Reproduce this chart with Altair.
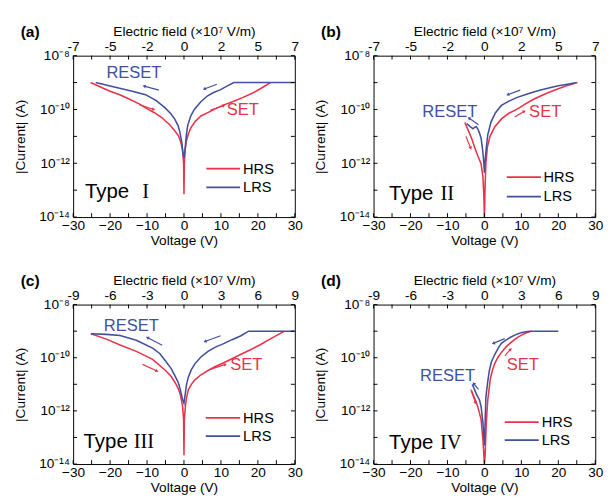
import math
import altair as alt
import pandas as pd

RED = "#e8334a"
BLUE = "#41509e"
FONT = "Liberation Sans"
SERIF = "Liberation Serif"

# ---------------- axes / tick values ----------------
V_TICKS = [-30, -20, -10, 0, 10, 20, 30]
V_MINOR = [-30, -25, -20, -15, -10, -5, 0, 5, 10, 15, 20, 25, 30]
I_MAJOR = [1e-14, 1e-12, 1e-10, 1e-8]
I_DECADES = [1e-14, 1e-13, 1e-12, 1e-11, 1e-10, 1e-9, 1e-8]
FIELD_AB = ["-7", "-5", "-2", "0", "2", "5", "7"]
FIELD_CD = ["-9", "-6", "-3", "0", "3", "6", "9"]
I_LABELS = ["10⁻¹⁴", "10⁻¹²", "10⁻¹⁰", "10⁻⁸"]
STATES = ["HRS", "LRS"]

# ---------------- (a) Type I ----------------
A_HRS_V = [-25.3, -22, -20, -17.4, -15, -12, -10.4, -8, -6, -5.1, -4, -2.5, -1.5, -0.9, -0.4, -0.1, 0.0,
           0.1, 0.3, 0.6, 1.2, 1.9, 3, 4.6, 7, 9, 11, 13.3, 16, 18.6, 21, 23.4]
A_HRS_L = [-9.0, -9.2, -9.32, -9.45, -9.6, -9.8, -9.94, -10.12, -10.3, -10.42, -10.55, -10.79, -10.98, -11.2,
           -11.5, -12.0, -13.15, -12.0, -11.5, -11.2, -10.9, -10.67, -10.45, -10.24, -10.08, -9.94, -9.82,
           -9.7, -9.55, -9.39, -9.2, -9.0]
A_LRS_V = [-23.9, -20, -17.4, -14, -10.4, -7.5, -5.1, -3.5, -2.5, -1.6, -1.1, -0.6, -0.3, 0.0, 0.3, 0.6,
           1.0, 1.8, 2.8, 4.5, 6.3, 8, 9.8, 11.5, 13.5, 20, 30]
A_LRS_L = [-9.0, -9.13, -9.21, -9.32, -9.45, -9.67, -9.94, -10.17, -10.36, -10.6, -10.85, -11.2, -11.6,
           -11.8, -11.5, -11.0, -10.6, -10.25, -10.0, -9.72, -9.5, -9.37, -9.27, -9.14, -9.0, -9.0, -9.0]

# ---------------- (b) Type II ----------------
B_HRS_V = [-5.3, -4.6, -3.5, -2.6, -1.8, -0.9, -0.4, -0.15, 0.0, 0.15, 0.4, 0.8, 1.5, 2.8, 4.6, 6.5, 9,
           11, 13.3, 15.5, 17.7, 20, 22, 25.2]
B_HRS_L = [-10.48, -10.7, -11.06, -11.42, -11.72, -12.02, -12.5, -13.2, -14.0, -13.0, -12.0, -11.4, -11.0,
           -10.65, -10.35, -10.15, -9.98, -9.8, -9.62, -9.48, -9.35, -9.23, -9.13, -9.0]
B_LRS_V = [-4.8, -4.0, -3.1, -2.6, -2.2, -1.7, -1.3, -0.9, -0.45, -0.15, 0.0, 0.2, 0.45, 0.9, 1.8, 3.0,
           4.6, 6.5, 8.9, 11, 13.3, 15.5, 17.7, 20, 22.1, 24.7]
B_LRS_L = [-10.52, -10.62, -10.72, -10.66, -10.64, -10.75, -10.89, -11.07, -11.55, -12.0, -12.35, -11.9,
           -11.5, -10.94, -10.46, -10.12, -9.85, -9.7, -9.55, -9.45, -9.35, -9.27, -9.19, -9.12, -9.07, -9.01]

# ---------------- (c) Type III ----------------
C_HRS_V = [-25.2, -21, -17.3, -12.9, -8.5, -5, -3.5, -2.3, -1.5, -1.0, -0.4, -0.1, 0.0, 0.1, 0.4, 0.7,
           1.2, 2, 2.9, 4.5, 6.5, 8.5, 10.9, 13, 15.3, 18, 20.5, 23.5, 27.2]
C_HRS_L = [-9.1, -9.3, -9.52, -9.76, -10.06, -10.48, -10.7, -10.96, -11.18, -11.38, -11.8, -12.3, -13.67,
           -12.3, -11.8, -11.5, -11.2, -11.0, -10.84, -10.65, -10.48, -10.33, -10.18, -10.04, -9.88, -9.7,
           -9.52, -9.28, -9.0]
C_LRS_V = [-25.2, -21, -17.3, -12.9, -8.5, -6.5, -5, -3.5, -2.3, -1.5, -1.0, -0.4, 0.0, 0.4, 0.7, 1.2, 2,
           2.9, 4.5, 6.5, 8.5, 10.9, 13, 15.3, 17.5, 30]
C_LRS_L = [-9.1, -9.12, -9.16, -9.34, -9.64, -9.85, -10.12, -10.4, -10.72, -10.95, -11.2, -11.56, -11.7,
           -11.3, -11.0, -10.72, -10.45, -10.24, -9.98, -9.76, -9.6, -9.46, -9.32, -9.18, -9.0, -9.0]

# ---------------- (d) Type IV ----------------
D_HRS_V = [-3.5, -2.6, -1.8, -0.9, -0.35, -0.1, 0.0, 0.2, 0.5, 0.9, 1.6, 2.2, 2.8, 3.6, 4.6, 5.8, 7.2,
           8.5, 9.9, 11.2, 12.6]
D_HRS_L = [-11.24, -11.54, -11.84, -12.32, -13.17, -13.8, -14.0, -13.65, -12.44, -11.6, -10.8, -10.45,
           -10.22, -10.0, -9.8, -9.6, -9.42, -9.28, -9.16, -9.07, -9.0]
D_LRS_V = [-3.3, -2.8, -2.2, -1.3, -0.9, -0.4, -0.15, 0.0, 0.2, 0.4, 0.9, 1.3, 1.9, 2.8, 3.7, 4.6, 5.9,
           7.2, 8.5, 9.9, 11.2, 12.4, 20]
D_LRS_L = [-11.0, -11.15, -11.36, -11.6, -11.84, -12.44, -13.0, -13.3, -12.44, -11.48, -10.9, -10.5,
           -10.15, -9.88, -9.65, -9.46, -9.33, -9.22, -9.13, -9.06, -9.02, -9.0, -9.0]

# ---------------- annotations (data units: V, log10 I) ----------------
# arrows: tail V, tail logI, head V, head logI, state
A_ARROWS = [(-6.8, -9.28, -10.8, -9.13, "LRS"), (-12.1, -9.82, -8.2, -10.0, "HRS"),
            (8.9, -9.06, 5.5, -9.24, "LRS"), (7.1, -10.03, 10.8, -9.85, "HRS")]
B_ARROWS = [(9.7, -9.28, 6.3, -9.45, "LRS"), (8.2, -10.28, 10.8, -10.07, "HRS"),
            (-1.6, -10.57, -4.2, -10.32, "LRS"), (-5.0, -11.0, -3.7, -11.44, "HRS")]
C_ARROWS = [(-5.9, -9.53, -9.9, -9.24, "LRS"), (-11.2, -10.25, -7.3, -10.5, "HRS"),
            (9.9, -9.17, 5.7, -9.39, "LRS"), (7.3, -10.43, 11.2, -10.25, "HRS")]
D_ARROWS = [(5.5, -9.28, 2.4, -9.46, "LRS"), (5.5, -9.93, 7.1, -9.68, "HRS"),
            (-1.6, -11.19, -2.9, -10.97, "LRS"), (-3.7, -11.19, -2.4, -11.7, "HRS")]

W = 228
H_TOP = 166
H_BOT = 164
PX_PER_V = W / 60.0

xs = alt.Scale(domain=[-30, 30], nice=False, zero=False)
ys = alt.Scale(type="log", domain=[1e-14, 1e-8], nice=False)


def field_expr(labels):
    expr = "''"
    for v, lab in reversed(list(zip(V_TICKS, labels))):
        expr = f"datum.value == {v} ? '{lab}' : ({expr})"
    return expr


Y_EXPR = ("datum.value < 5e-14 ? '%s' : (datum.value < 5e-12 ? '%s' : (datum.value < 5e-10 ? '%s' : '%s'))"
          % tuple(I_LABELS))

color = alt.Color("state:N", scale=alt.Scale(domain=STATES, range=[RED, BLUE]), legend=None)


def panel(letter, numeral, field_labels, hv, hl, lv, ll, arrows, ann, H):
    px_per_dec = H / 6.0
    rows = []
    for s, vv, ll_ in (("HRS", hv, hl), ("LRS", lv, ll)):
        for k, (v, l) in enumerate(zip(vv, ll_)):
            rows.append({"V": v, "L": l, "state": s, "idx": k})
    df = pd.DataFrame(rows)

    lines = alt.Chart(df).transform_calculate(I="pow(10, datum.L)").mark_line(
        strokeWidth=1.6, clip=True).encode(
        x=alt.X("V:Q", scale=xs, axis=alt.Axis(
            orient="bottom", values=V_TICKS, title="Voltage (V)", labelPadding=2, titlePadding=1)),
        y=alt.Y("I:Q", scale=ys, axis=alt.Axis(
            orient="left", values=I_MAJOR, labelExpr=Y_EXPR, title="|Current| (A)",
            labelPadding=4, titlePadding=12)),
        color=color,
        order="idx:Q",
    )

    tdf = pd.DataFrame({"V": V_MINOR})
    top = alt.Chart(tdf).mark_rule(color="black", strokeWidth=1).encode(
        x=alt.X("V:Q", scale=xs, axis=alt.Axis(
            orient="top", values=V_TICKS, labelExpr=field_expr(field_labels),
            title="Electric field (×10⁷ V/m)", labelPadding=2, titlePadding=2)),
        y=alt.value(0), y2=alt.value(4))
    bottom = alt.Chart(tdf).mark_rule(color="black", strokeWidth=1).encode(
        x=alt.X("V:Q", scale=xs, axis=None), y=alt.value(H), y2=alt.value(H - 4))
    ddf = pd.DataFrame({"I": I_DECADES})
    left = alt.Chart(ddf).mark_rule(color="black", strokeWidth=1).encode(
        y=alt.Y("I:Q", scale=ys, axis=None), x=alt.value(0), x2=alt.value(4))
    right = alt.Chart(ddf).mark_rule(color="black", strokeWidth=1).encode(
        y=alt.Y("I:Q", scale=ys, axis=None), x=alt.value(W), x2=alt.value(W - 4))

    adf = pd.DataFrame(arrows, columns=["V1", "L1", "V2", "L2", "state"])
    adf["ang"] = [
        math.degrees(math.atan2(-(r.L2 - r.L1) * px_per_dec, (r.V2 - r.V1) * PX_PER_V)) % 360
        for r in adf.itertuples()]
    shafts = alt.Chart(adf).transform_calculate(
        I1="pow(10, datum.L1)", I2="pow(10, datum.L2)").mark_rule(strokeWidth=1.2).encode(
        x=alt.X("V1:Q", scale=xs, axis=None), x2="V2:Q",
        y=alt.Y("I1:Q", scale=ys, axis=None), y2="I2:Q", color=color)
    heads = alt.Chart(adf).transform_calculate(I2="pow(10, datum.L2)").mark_point(
        shape="triangle-right", filled=True, size=14, opacity=1).encode(
        x=alt.X("V2:Q", scale=xs, axis=None), y=alt.Y("I2:Q", scale=ys, axis=None),
        angle=alt.Angle("ang:Q", scale=None), color=color)

    def txt(rows_, **kw):
        d = pd.DataFrame(rows_, columns=["V", "L", "t"])
        return alt.Chart(d).transform_calculate(I="pow(10, datum.L)").mark_text(**kw).encode(
            x=alt.X("V:Q", scale=xs, axis=None), y=alt.Y("I:Q", scale=ys, axis=None), text="t:N")

    reset = txt([(ann["reset"][0], ann["reset"][1], "RESET")], font=FONT, fontSize=17, color=BLUE,
                align="left", baseline="alphabetic")
    set_ = txt([(ann["set"][0], ann["set"][1], "SET")], font=FONT, fontSize=17, color=RED,
               align="left", baseline="alphabetic")
    typ = txt([(ann["typ"][0], ann["typ"][2], "Type")], font=FONT, fontSize=21, color="black",
              align="left", baseline="alphabetic")
    num = txt([(ann["typ"][1], ann["typ"][2], numeral)], font=SERIF, fontSize=21, color="black",
              align="left", baseline="alphabetic")

    lx1, lx2, ltx = ann["leg_x"]
    ldf = pd.DataFrame({"state": STATES, "L": ann["leg_y"], "V1": [lx1, lx1], "V2": [lx2, lx2],
                        "VT": [ltx, ltx]})
    leg_lines = alt.Chart(ldf).transform_calculate(I="pow(10, datum.L)").mark_rule(strokeWidth=1.8).encode(
        x=alt.X("V1:Q", scale=xs, axis=None), x2="V2:Q",
        y=alt.Y("I:Q", scale=ys, axis=None), color=color)
    leg_text = alt.Chart(ldf).transform_calculate(I="pow(10, datum.L)").mark_text(
        font=FONT, fontSize=15, align="left", baseline="middle", color="black").encode(
        x=alt.X("VT:Q", scale=xs, axis=None), y=alt.Y("I:Q", scale=ys, axis=None), text="state:N")

    lab = alt.Chart(pd.DataFrame({"t": [letter]})).mark_text(
        font=FONT, fontSize=16, fontWeight="bold", align="left", baseline="alphabetic",
        color="black").encode(x=alt.value(-54), y=alt.value(-19), text="t:N")

    return alt.layer(lines, top, bottom, left, right, shafts, heads, reset, set_, typ, num,
                     leg_lines, leg_text, lab).resolve_axis(x="independent", y="independent").properties(
        width=W, height=H)


ANN_A = {"reset": (-21.0, -8.84), "set": (11.6, -10.21), "typ": (-26.8, -11.3, -13.29),
         "leg_x": (6.05, 15.2, 16.0), "leg_y": [-12.2, -12.9]}
ANN_B = {"reset": (-16.8, -10.29), "set": (12.1, -10.29), "typ": (-25.8, -11.9, -13.36),
         "leg_x": (6.05, 15.3, 16.0), "leg_y": [-12.51, -13.24]}
ANN_C = {"reset": (-21.7, -9.01), "set": (12.5, -10.46), "typ": (-27.2, -13.6, -13.39),
         "leg_x": (5.9, 15.2, 16.0), "leg_y": [-12.26, -12.95]}
ANN_D = {"reset": (-17.4, -10.87), "set": (6.05, -10.47), "typ": (-25.8, -12.0, -13.43),
         "leg_x": (5.5, 14.7, 15.5), "leg_y": [-12.42, -13.1]}

pa = panel("(a)", "I", FIELD_AB, A_HRS_V, A_HRS_L, A_LRS_V, A_LRS_L, A_ARROWS, ANN_A, H_TOP)
pb = panel("(b)", "II", FIELD_AB, B_HRS_V, B_HRS_L, B_LRS_V, B_LRS_L, B_ARROWS, ANN_B, H_TOP)
pc = panel("(c)", "III", FIELD_CD, C_HRS_V, C_HRS_L, C_LRS_V, C_LRS_L, C_ARROWS, ANN_C, H_BOT)
pd_ = panel("(d)", "IV", FIELD_CD, D_HRS_V, D_HRS_L, D_LRS_V, D_LRS_L, D_ARROWS, ANN_D, H_BOT)

chart = alt.vconcat(
    alt.hconcat(pa, pb, spacing=10),
    alt.hconcat(pc, pd_, spacing=10),
    spacing=25,
).properties(
    padding={"left": 5, "top": 9, "right": 0, "bottom": 0}
).configure_view(stroke="black", strokeWidth=1).configure_axis(
    labelFont=FONT, titleFont=FONT, labelFontSize=14, titleFontSize=14, labelColor="black",
    titleColor="black", titleFontWeight="normal", domain=False, ticks=False, grid=False,
    labelFlush=False, labelOverlap=False,
)

chart.save("out.html", embed_options={"renderer": "svg", "actions": False})
